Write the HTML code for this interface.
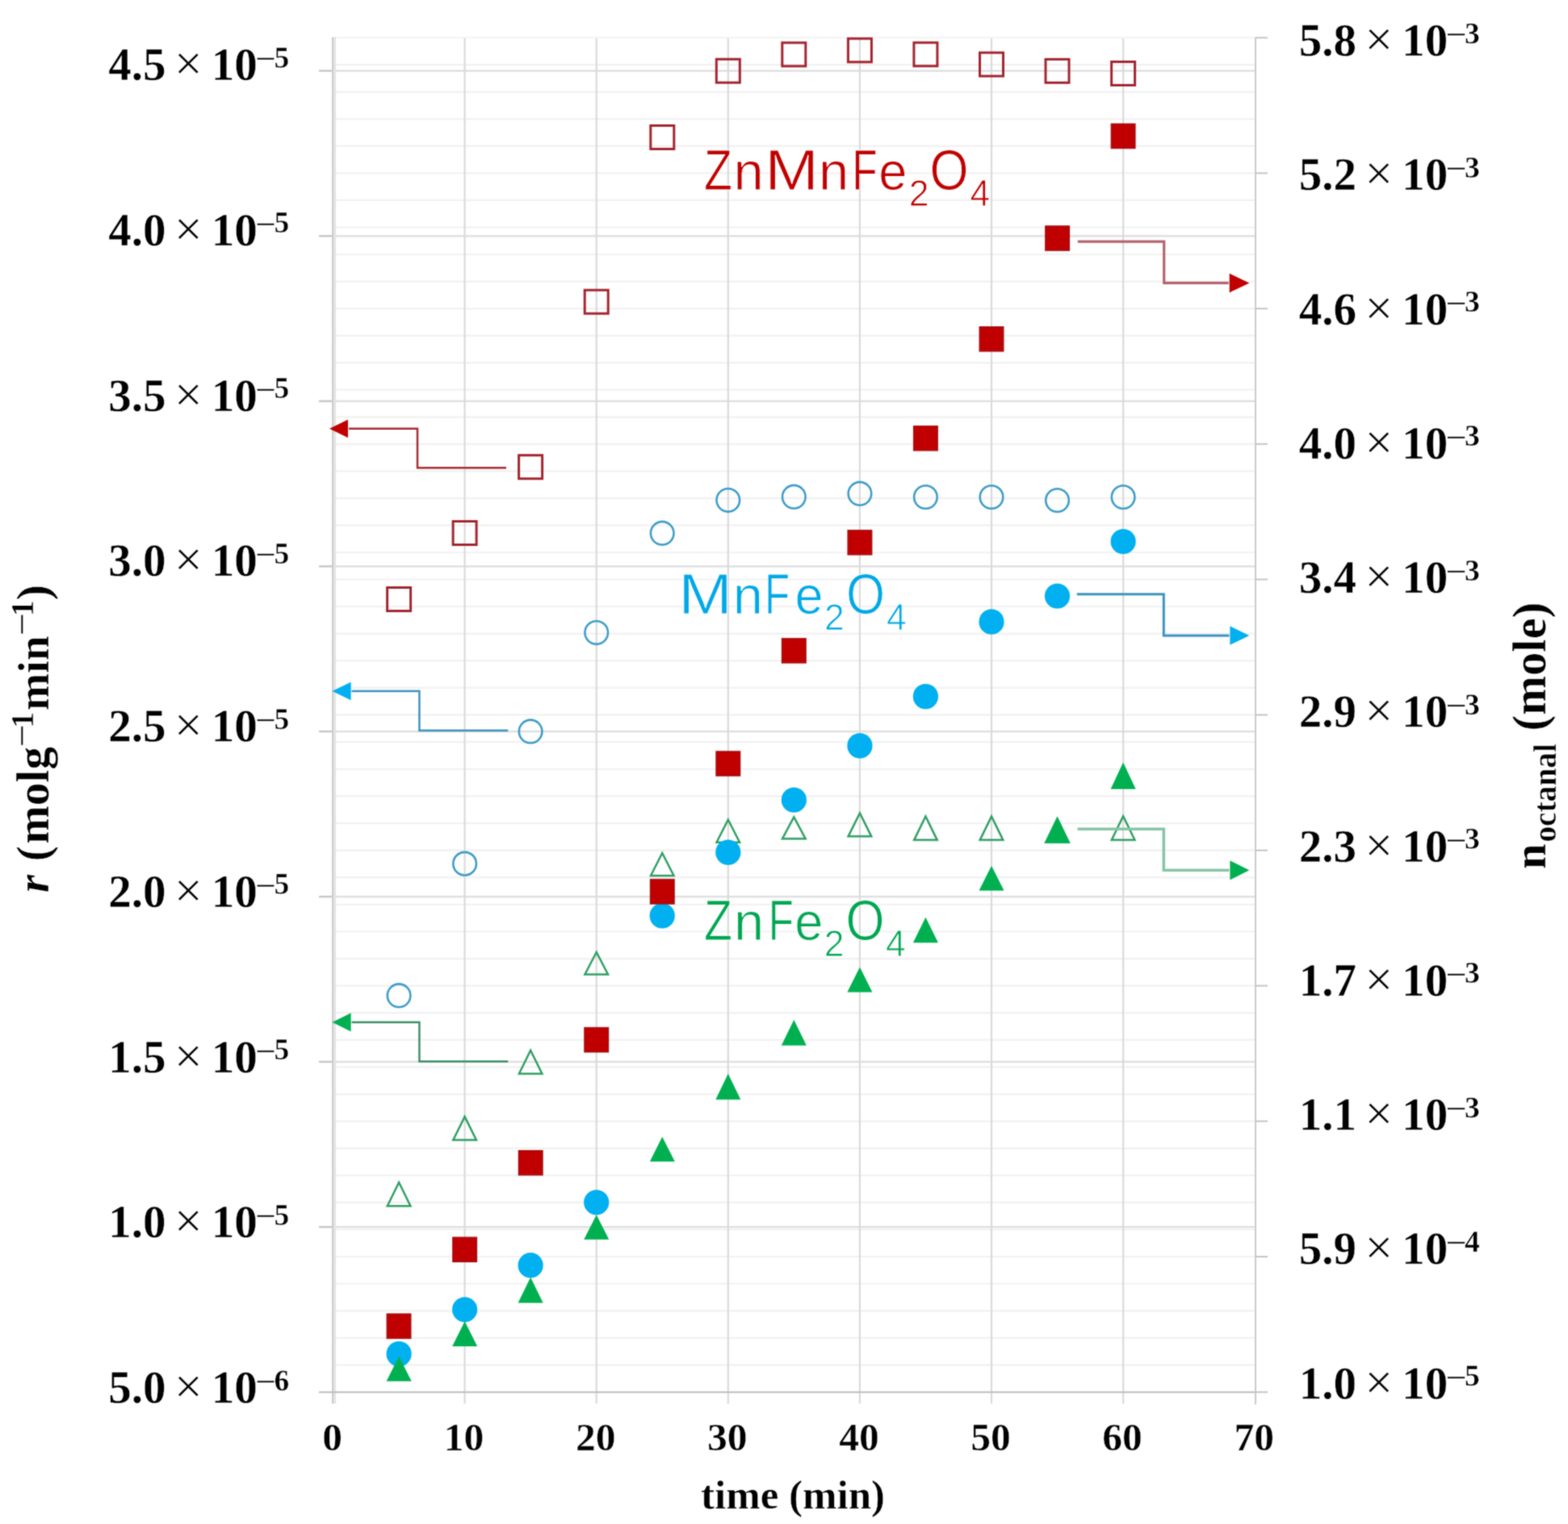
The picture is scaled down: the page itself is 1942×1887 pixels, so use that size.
<!DOCTYPE html>
<html><head><meta charset="utf-8"><title>chart</title>
<style>html,body{margin:0;padding:0;background:#fff;}svg{display:block;}</style>
</head><body>
<svg width="1942" height="1887" viewBox="0 0 1942 1887">
<defs><filter id="soft" x="0" y="0" width="1942" height="1887" filterUnits="userSpaceOnUse" color-interpolation-filters="sRGB"><feConvolveMatrix order="3" kernelMatrix="1 2 1 2 8 2 1 2 1" divisor="20" edgeMode="duplicate"/></filter></defs>
<g filter="url(#soft)">
<rect width="1942" height="1887" fill="#fff"/>
<line x1="414" y1="1690.2" x2="1554" y2="1690.2" stroke="#f1f1f1" stroke-width="2.2"/>
<line x1="414" y1="1656.6" x2="1554" y2="1656.6" stroke="#f1f1f1" stroke-width="2.2"/>
<line x1="414" y1="1623.1" x2="1554" y2="1623.1" stroke="#f1f1f1" stroke-width="2.2"/>
<line x1="414" y1="1589.5" x2="1554" y2="1589.5" stroke="#f1f1f1" stroke-width="2.2"/>
<line x1="414" y1="1556.0" x2="1554" y2="1556.0" stroke="#f1f1f1" stroke-width="2.2"/>
<line x1="414" y1="1522.5" x2="1554" y2="1522.5" stroke="#f1f1f1" stroke-width="2.2"/>
<line x1="414" y1="1488.9" x2="1554" y2="1488.9" stroke="#f1f1f1" stroke-width="2.2"/>
<line x1="414" y1="1455.4" x2="1554" y2="1455.4" stroke="#f1f1f1" stroke-width="2.2"/>
<line x1="414" y1="1421.8" x2="1554" y2="1421.8" stroke="#f1f1f1" stroke-width="2.2"/>
<line x1="414" y1="1388.3" x2="1554" y2="1388.3" stroke="#f1f1f1" stroke-width="2.2"/>
<line x1="414" y1="1354.8" x2="1554" y2="1354.8" stroke="#f1f1f1" stroke-width="2.2"/>
<line x1="414" y1="1321.2" x2="1554" y2="1321.2" stroke="#f1f1f1" stroke-width="2.2"/>
<line x1="414" y1="1287.7" x2="1554" y2="1287.7" stroke="#f1f1f1" stroke-width="2.2"/>
<line x1="414" y1="1254.1" x2="1554" y2="1254.1" stroke="#f1f1f1" stroke-width="2.2"/>
<line x1="414" y1="1220.6" x2="1554" y2="1220.6" stroke="#f1f1f1" stroke-width="2.2"/>
<line x1="414" y1="1187.1" x2="1554" y2="1187.1" stroke="#f1f1f1" stroke-width="2.2"/>
<line x1="414" y1="1153.5" x2="1554" y2="1153.5" stroke="#f1f1f1" stroke-width="2.2"/>
<line x1="414" y1="1120.0" x2="1554" y2="1120.0" stroke="#f1f1f1" stroke-width="2.2"/>
<line x1="414" y1="1086.4" x2="1554" y2="1086.4" stroke="#f1f1f1" stroke-width="2.2"/>
<line x1="414" y1="1052.9" x2="1554" y2="1052.9" stroke="#f1f1f1" stroke-width="2.2"/>
<line x1="414" y1="1019.4" x2="1554" y2="1019.4" stroke="#f1f1f1" stroke-width="2.2"/>
<line x1="414" y1="985.8" x2="1554" y2="985.8" stroke="#f1f1f1" stroke-width="2.2"/>
<line x1="414" y1="952.3" x2="1554" y2="952.3" stroke="#f1f1f1" stroke-width="2.2"/>
<line x1="414" y1="918.7" x2="1554" y2="918.7" stroke="#f1f1f1" stroke-width="2.2"/>
<line x1="414" y1="885.2" x2="1554" y2="885.2" stroke="#f1f1f1" stroke-width="2.2"/>
<line x1="414" y1="851.7" x2="1554" y2="851.7" stroke="#f1f1f1" stroke-width="2.2"/>
<line x1="414" y1="818.1" x2="1554" y2="818.1" stroke="#f1f1f1" stroke-width="2.2"/>
<line x1="414" y1="784.6" x2="1554" y2="784.6" stroke="#f1f1f1" stroke-width="2.2"/>
<line x1="414" y1="751.0" x2="1554" y2="751.0" stroke="#f1f1f1" stroke-width="2.2"/>
<line x1="414" y1="717.5" x2="1554" y2="717.5" stroke="#f1f1f1" stroke-width="2.2"/>
<line x1="414" y1="684.0" x2="1554" y2="684.0" stroke="#f1f1f1" stroke-width="2.2"/>
<line x1="414" y1="650.4" x2="1554" y2="650.4" stroke="#f1f1f1" stroke-width="2.2"/>
<line x1="414" y1="616.9" x2="1554" y2="616.9" stroke="#f1f1f1" stroke-width="2.2"/>
<line x1="414" y1="583.3" x2="1554" y2="583.3" stroke="#f1f1f1" stroke-width="2.2"/>
<line x1="414" y1="549.8" x2="1554" y2="549.8" stroke="#f1f1f1" stroke-width="2.2"/>
<line x1="414" y1="516.3" x2="1554" y2="516.3" stroke="#f1f1f1" stroke-width="2.2"/>
<line x1="414" y1="482.7" x2="1554" y2="482.7" stroke="#f1f1f1" stroke-width="2.2"/>
<line x1="414" y1="449.2" x2="1554" y2="449.2" stroke="#f1f1f1" stroke-width="2.2"/>
<line x1="414" y1="415.6" x2="1554" y2="415.6" stroke="#f1f1f1" stroke-width="2.2"/>
<line x1="414" y1="382.1" x2="1554" y2="382.1" stroke="#f1f1f1" stroke-width="2.2"/>
<line x1="414" y1="348.6" x2="1554" y2="348.6" stroke="#f1f1f1" stroke-width="2.2"/>
<line x1="414" y1="315.0" x2="1554" y2="315.0" stroke="#f1f1f1" stroke-width="2.2"/>
<line x1="414" y1="281.5" x2="1554" y2="281.5" stroke="#f1f1f1" stroke-width="2.2"/>
<line x1="414" y1="247.9" x2="1554" y2="247.9" stroke="#f1f1f1" stroke-width="2.2"/>
<line x1="414" y1="214.4" x2="1554" y2="214.4" stroke="#f1f1f1" stroke-width="2.2"/>
<line x1="414" y1="180.9" x2="1554" y2="180.9" stroke="#f1f1f1" stroke-width="2.2"/>
<line x1="414" y1="147.3" x2="1554" y2="147.3" stroke="#f1f1f1" stroke-width="2.2"/>
<line x1="414" y1="113.8" x2="1554" y2="113.8" stroke="#f1f1f1" stroke-width="2.2"/>
<line x1="414" y1="80.2" x2="1554" y2="80.2" stroke="#f1f1f1" stroke-width="2.2"/>
<line x1="395" y1="1519.2" x2="1554" y2="1519.2" stroke="#e0e0e0" stroke-width="2.6"/>
<line x1="395" y1="1519.2" x2="412" y2="1519.2" stroke="#c4c4c4" stroke-width="2"/>
<line x1="395" y1="1314.7" x2="1554" y2="1314.7" stroke="#e0e0e0" stroke-width="2.6"/>
<line x1="395" y1="1314.7" x2="412" y2="1314.7" stroke="#c4c4c4" stroke-width="2"/>
<line x1="395" y1="1110.2" x2="1554" y2="1110.2" stroke="#e0e0e0" stroke-width="2.6"/>
<line x1="395" y1="1110.2" x2="412" y2="1110.2" stroke="#c4c4c4" stroke-width="2"/>
<line x1="395" y1="905.7" x2="1554" y2="905.7" stroke="#e0e0e0" stroke-width="2.6"/>
<line x1="395" y1="905.7" x2="412" y2="905.7" stroke="#c4c4c4" stroke-width="2"/>
<line x1="395" y1="701.2" x2="1554" y2="701.2" stroke="#e0e0e0" stroke-width="2.6"/>
<line x1="395" y1="701.2" x2="412" y2="701.2" stroke="#c4c4c4" stroke-width="2"/>
<line x1="395" y1="496.7" x2="1554" y2="496.7" stroke="#e0e0e0" stroke-width="2.6"/>
<line x1="395" y1="496.7" x2="412" y2="496.7" stroke="#c4c4c4" stroke-width="2"/>
<line x1="395" y1="292.2" x2="1554" y2="292.2" stroke="#e0e0e0" stroke-width="2.6"/>
<line x1="395" y1="292.2" x2="412" y2="292.2" stroke="#c4c4c4" stroke-width="2"/>
<line x1="395" y1="87.7" x2="1554" y2="87.7" stroke="#e0e0e0" stroke-width="2.6"/>
<line x1="395" y1="87.7" x2="412" y2="87.7" stroke="#c4c4c4" stroke-width="2"/>
<line x1="575.6" y1="47" x2="575.6" y2="1738" stroke="#dadada" stroke-width="2.2"/>
<line x1="738.7" y1="47" x2="738.7" y2="1738" stroke="#dadada" stroke-width="2.2"/>
<line x1="901.8" y1="47" x2="901.8" y2="1738" stroke="#dadada" stroke-width="2.2"/>
<line x1="1064.9" y1="47" x2="1064.9" y2="1738" stroke="#dadada" stroke-width="2.2"/>
<line x1="1228.0" y1="47" x2="1228.0" y2="1738" stroke="#dadada" stroke-width="2.2"/>
<line x1="1391.1" y1="47" x2="1391.1" y2="1738" stroke="#dadada" stroke-width="2.2"/>
<line x1="414" y1="46.5" x2="1554" y2="46.5" stroke="#f3f3f3" stroke-width="2"/>
<line x1="412" y1="46" x2="412" y2="1738" stroke="#cdcdcd" stroke-width="2"/>
<line x1="414.5" y1="46" x2="414.5" y2="1738" stroke="#e3e3e3" stroke-width="3"/>
<line x1="395" y1="1723.7" x2="1555" y2="1723.7" stroke="#bcbcbc" stroke-width="2"/>
<line x1="1555" y1="46" x2="1555" y2="1739" stroke="#cacaca" stroke-width="2"/>
<line x1="1555" y1="1723.7" x2="1570" y2="1723.7" stroke="#c4c4c4" stroke-width="2"/>
<line x1="1555" y1="1556.0" x2="1570" y2="1556.0" stroke="#c4c4c4" stroke-width="2"/>
<line x1="1555" y1="1388.3" x2="1570" y2="1388.3" stroke="#c4c4c4" stroke-width="2"/>
<line x1="1555" y1="1220.6" x2="1570" y2="1220.6" stroke="#c4c4c4" stroke-width="2"/>
<line x1="1555" y1="1052.9" x2="1570" y2="1052.9" stroke="#c4c4c4" stroke-width="2"/>
<line x1="1555" y1="885.2" x2="1570" y2="885.2" stroke="#c4c4c4" stroke-width="2"/>
<line x1="1555" y1="717.5" x2="1570" y2="717.5" stroke="#c4c4c4" stroke-width="2"/>
<line x1="1555" y1="549.8" x2="1570" y2="549.8" stroke="#c4c4c4" stroke-width="2"/>
<line x1="1555" y1="382.1" x2="1570" y2="382.1" stroke="#c4c4c4" stroke-width="2"/>
<line x1="1555" y1="214.4" x2="1570" y2="214.4" stroke="#c4c4c4" stroke-width="2"/>
<line x1="1555" y1="46.7" x2="1570" y2="46.7" stroke="#c4c4c4" stroke-width="2"/>
<rect x="479.6" y="727.5" width="29" height="29" fill="none" stroke="#a3242e" stroke-width="3"/>
<rect x="561.1" y="645.5" width="29" height="29" fill="none" stroke="#a3242e" stroke-width="3"/>
<rect x="642.6" y="563.7" width="29" height="29" fill="none" stroke="#a3242e" stroke-width="3"/>
<rect x="724.2" y="359.2" width="29" height="29" fill="none" stroke="#a3242e" stroke-width="3"/>
<rect x="805.8" y="155.5" width="29" height="29" fill="none" stroke="#a3242e" stroke-width="3"/>
<rect x="887.3" y="73.3" width="29" height="29" fill="none" stroke="#a3242e" stroke-width="3"/>
<rect x="968.8" y="52.9" width="29" height="29" fill="none" stroke="#a3242e" stroke-width="3"/>
<rect x="1050.4" y="47.8" width="29" height="29" fill="none" stroke="#a3242e" stroke-width="3"/>
<rect x="1131.9" y="52.8" width="29" height="29" fill="none" stroke="#a3242e" stroke-width="3"/>
<rect x="1213.5" y="65.2" width="29" height="29" fill="none" stroke="#a3242e" stroke-width="3"/>
<rect x="1295.0" y="73.4" width="29" height="29" fill="none" stroke="#a3242e" stroke-width="3"/>
<rect x="1376.6" y="76.5" width="29" height="29" fill="none" stroke="#a3242e" stroke-width="3"/>
<circle cx="494.1" cy="1232.7" r="14.3" fill="none" stroke="#3d9cc9" stroke-width="2.6"/>
<circle cx="575.6" cy="1069.4" r="14.3" fill="none" stroke="#3d9cc9" stroke-width="2.6"/>
<circle cx="657.1" cy="905.7" r="14.3" fill="none" stroke="#3d9cc9" stroke-width="2.6"/>
<circle cx="738.7" cy="783.3" r="14.3" fill="none" stroke="#3d9cc9" stroke-width="2.6"/>
<circle cx="820.2" cy="660.2" r="14.3" fill="none" stroke="#3d9cc9" stroke-width="2.6"/>
<circle cx="901.8" cy="619.3" r="14.3" fill="none" stroke="#3d9cc9" stroke-width="2.6"/>
<circle cx="983.3" cy="615.2" r="14.3" fill="none" stroke="#3d9cc9" stroke-width="2.6"/>
<circle cx="1064.9" cy="611.2" r="14.3" fill="none" stroke="#3d9cc9" stroke-width="2.6"/>
<circle cx="1146.4" cy="615.5" r="14.3" fill="none" stroke="#3d9cc9" stroke-width="2.6"/>
<circle cx="1228.0" cy="615.5" r="14.3" fill="none" stroke="#3d9cc9" stroke-width="2.6"/>
<circle cx="1309.5" cy="619.5" r="14.3" fill="none" stroke="#3d9cc9" stroke-width="2.6"/>
<circle cx="1391.1" cy="615.5" r="14.3" fill="none" stroke="#3d9cc9" stroke-width="2.6"/>
<polygon points="494.1,1464.0 479.8,1493.3 508.4,1493.3" fill="none" stroke="#2f9e63" stroke-width="2.5" stroke-linejoin="miter"/>
<polygon points="575.6,1382.6 561.3,1411.5 589.9,1411.5" fill="none" stroke="#2f9e63" stroke-width="2.5" stroke-linejoin="miter"/>
<polygon points="657.1,1300.5 642.9,1329.5 671.4,1329.5" fill="none" stroke="#2f9e63" stroke-width="2.5" stroke-linejoin="miter"/>
<polygon points="738.7,1179.0 724.4,1206.5 753.0,1206.5" fill="none" stroke="#2f9e63" stroke-width="2.5" stroke-linejoin="miter"/>
<polygon points="820.2,1056.3 806.0,1084.2 834.5,1084.2" fill="none" stroke="#2f9e63" stroke-width="2.5" stroke-linejoin="miter"/>
<polygon points="901.8,1015.0 887.5,1043.0 916.1,1043.0" fill="none" stroke="#2f9e63" stroke-width="2.5" stroke-linejoin="miter"/>
<polygon points="983.3,1011.6 969.0,1038.4 997.6,1038.4" fill="none" stroke="#2f9e63" stroke-width="2.5" stroke-linejoin="miter"/>
<polygon points="1064.9,1006.7 1050.6,1035.6 1079.2,1035.6" fill="none" stroke="#2f9e63" stroke-width="2.5" stroke-linejoin="miter"/>
<polygon points="1146.4,1010.8 1132.1,1040.1 1160.7,1040.1" fill="none" stroke="#2f9e63" stroke-width="2.5" stroke-linejoin="miter"/>
<polygon points="1228.0,1010.8 1213.7,1040.1 1242.3,1040.1" fill="none" stroke="#2f9e63" stroke-width="2.5" stroke-linejoin="miter"/>
<polygon points="1309.5,1013.5 1295.2,1043.0 1323.8,1043.0" fill="none" stroke="#2f9e63" stroke-width="2.5" stroke-linejoin="miter"/>
<polygon points="1391.1,1010.5 1376.8,1040.0 1405.4,1040.0" fill="none" stroke="#2f9e63" stroke-width="2.5" stroke-linejoin="miter"/>
<circle cx="494.1" cy="1676.4" r="15.6" fill="#00b0f0"/>
<circle cx="575.6" cy="1621.5" r="15.6" fill="#00b0f0"/>
<circle cx="657.1" cy="1566.7" r="15.6" fill="#00b0f0"/>
<circle cx="738.7" cy="1488.8" r="15.6" fill="#00b0f0"/>
<circle cx="820.2" cy="1133.9" r="15.6" fill="#00b0f0"/>
<circle cx="901.8" cy="1055.4" r="15.6" fill="#00b0f0"/>
<circle cx="983.3" cy="990.5" r="15.6" fill="#00b0f0"/>
<circle cx="1064.9" cy="923.4" r="15.6" fill="#00b0f0"/>
<circle cx="1146.4" cy="862.4" r="15.6" fill="#00b0f0"/>
<circle cx="1228.0" cy="769.9" r="15.6" fill="#00b0f0"/>
<circle cx="1309.5" cy="738.0" r="15.6" fill="#00b0f0"/>
<circle cx="1391.1" cy="670.5" r="15.6" fill="#00b0f0"/>
<rect x="479.2" y="1626.9" width="29.6" height="30.2" fill="#c00000" stroke="#a21218" stroke-width="1.4"/>
<rect x="560.8" y="1532.1" width="29.6" height="30.2" fill="#c00000" stroke="#a21218" stroke-width="1.4"/>
<rect x="642.4" y="1424.7" width="29.6" height="30.2" fill="#c00000" stroke="#a21218" stroke-width="1.4"/>
<rect x="723.9" y="1272.4" width="29.6" height="30.2" fill="#c00000" stroke="#a21218" stroke-width="1.4"/>
<rect x="805.5" y="1088.9" width="29.6" height="30.2" fill="#c00000" stroke="#a21218" stroke-width="1.4"/>
<rect x="887.0" y="930.4" width="29.6" height="30.2" fill="#c00000" stroke="#a21218" stroke-width="1.4"/>
<rect x="968.5" y="790.6" width="29.6" height="30.2" fill="#c00000" stroke="#a21218" stroke-width="1.4"/>
<rect x="1050.1" y="656.6" width="29.6" height="30.2" fill="#c00000" stroke="#a21218" stroke-width="1.4"/>
<rect x="1131.6" y="527.6" width="29.6" height="30.2" fill="#c00000" stroke="#a21218" stroke-width="1.4"/>
<rect x="1213.2" y="404.7" width="29.6" height="30.2" fill="#c00000" stroke="#a21218" stroke-width="1.4"/>
<rect x="1294.8" y="279.9" width="29.6" height="30.2" fill="#c00000" stroke="#a21218" stroke-width="1.4"/>
<rect x="1376.3" y="153.4" width="29.6" height="30.2" fill="#c00000" stroke="#a21218" stroke-width="1.4"/>
<polygon points="494.1,1679.3 478.6,1710.2 509.6,1710.2" fill="#00b050"/>
<polygon points="575.6,1636.0 560.1,1666.9 591.1,1666.9" fill="#00b050"/>
<polygon points="657.1,1581.4 641.6,1613.3 672.6,1613.3" fill="#00b050"/>
<polygon points="738.7,1504.2 723.2,1534.7 754.2,1534.7" fill="#00b050"/>
<polygon points="820.2,1407.4 804.8,1438.3 835.8,1438.3" fill="#00b050"/>
<polygon points="901.8,1329.6 886.3,1361.5 917.3,1361.5" fill="#00b050"/>
<polygon points="983.3,1262.7 967.8,1294.6 998.8,1294.6" fill="#00b050"/>
<polygon points="1064.9,1197.6 1049.4,1228.5 1080.4,1228.5" fill="#00b050"/>
<polygon points="1146.4,1135.8 1130.9,1167.3 1161.9,1167.3" fill="#00b050"/>
<polygon points="1228.0,1071.9 1212.5,1102.8 1243.5,1102.8" fill="#00b050"/>
<polygon points="1309.5,1011.2 1294.0,1044.0 1325.0,1044.0" fill="#00b050"/>
<polygon points="1391.1,943.9 1375.6,976.9 1406.6,976.9" fill="#00b050"/>
<path d="M627,579.2 H517 V530.7 H432" fill="none" stroke="#a52a30" stroke-width="2.5"/>
<polygon points="408,530.7 431,519.5 431,541.9000000000001" fill="#c00000"/>
<path d="M629.2,904.5 H519.4 V855.7 H435.6" fill="none" stroke="#3a93bf" stroke-width="2.5"/>
<polygon points="411.5,855.7 434.6,844.5 434.6,866.9000000000001" fill="#00b0f0"/>
<path d="M629.2,1314.2 H519.4 V1265.7 H435.6" fill="none" stroke="#3c9066" stroke-width="2.5"/>
<polygon points="411.5,1265.7 434.6,1254.2 434.6,1277.2" fill="#00b050"/>
<path d="M1334.8,299.2 H1441.7 V350.4 H1521.7" fill="none" stroke="#b4636e" stroke-width="3.2"/>
<polygon points="1547.4,350.4 1522.7,338.59999999999997 1522.7,362.2" fill="#c00000"/>
<path d="M1333.8,735.7 H1441.3 V786.9 H1522.4" fill="none" stroke="#3a93bf" stroke-width="3"/>
<polygon points="1547.3,786.9 1523.4,775.3 1523.4,798.5" fill="#00b0f0"/>
<path d="M1334.5,1026.6 H1441.3 V1077.6 H1522.4" fill="none" stroke="#86c4a4" stroke-width="3.5"/>
<polygon points="1547.3,1077.6 1523.4,1065.6 1523.4,1089.6" fill="#00b050"/>
<g stroke="#fff" stroke-width="0.4"><text font-family="'Liberation Serif','Times New Roman',serif" fill="#000"><tspan x="134.3" y="1737.0" font-weight="bold" font-size="57">5.0 </tspan><tspan x="215.8" y="1737.0" font-size="62">× </tspan><tspan x="261.8" y="1737.0" font-weight="bold" font-size="57">10</tspan><tspan x="316.3" y="1726.0" font-size="46">−</tspan><tspan x="339.5" y="1721.5" font-weight="bold" font-size="37.5">6</tspan></text>
<text font-family="'Liberation Serif','Times New Roman',serif" fill="#000"><tspan x="134.3" y="1532.2" font-weight="bold" font-size="57">1.0 </tspan><tspan x="215.8" y="1532.2" font-size="62">× </tspan><tspan x="261.8" y="1532.2" font-weight="bold" font-size="57">10</tspan><tspan x="316.3" y="1521.2" font-size="46">−</tspan><tspan x="339.5" y="1516.8" font-weight="bold" font-size="37.5">5</tspan></text>
<text font-family="'Liberation Serif','Times New Roman',serif" fill="#000"><tspan x="134.3" y="1327.5" font-weight="bold" font-size="57">1.5 </tspan><tspan x="215.8" y="1327.5" font-size="62">× </tspan><tspan x="261.8" y="1327.5" font-weight="bold" font-size="57">10</tspan><tspan x="316.3" y="1316.5" font-size="46">−</tspan><tspan x="339.5" y="1312.0" font-weight="bold" font-size="37.5">5</tspan></text>
<text font-family="'Liberation Serif','Times New Roman',serif" fill="#000"><tspan x="134.3" y="1122.8" font-weight="bold" font-size="57">2.0 </tspan><tspan x="215.8" y="1122.8" font-size="62">× </tspan><tspan x="261.8" y="1122.8" font-weight="bold" font-size="57">10</tspan><tspan x="316.3" y="1111.8" font-size="46">−</tspan><tspan x="339.5" y="1107.2" font-weight="bold" font-size="37.5">5</tspan></text>
<text font-family="'Liberation Serif','Times New Roman',serif" fill="#000"><tspan x="134.3" y="918.0" font-weight="bold" font-size="57">2.5 </tspan><tspan x="215.8" y="918.0" font-size="62">× </tspan><tspan x="261.8" y="918.0" font-weight="bold" font-size="57">10</tspan><tspan x="316.3" y="907.0" font-size="46">−</tspan><tspan x="339.5" y="902.5" font-weight="bold" font-size="37.5">5</tspan></text>
<text font-family="'Liberation Serif','Times New Roman',serif" fill="#000"><tspan x="134.3" y="713.2" font-weight="bold" font-size="57">3.0 </tspan><tspan x="215.8" y="713.2" font-size="62">× </tspan><tspan x="261.8" y="713.2" font-weight="bold" font-size="57">10</tspan><tspan x="316.3" y="702.2" font-size="46">−</tspan><tspan x="339.5" y="697.8" font-weight="bold" font-size="37.5">5</tspan></text>
<text font-family="'Liberation Serif','Times New Roman',serif" fill="#000"><tspan x="134.3" y="508.5" font-weight="bold" font-size="57">3.5 </tspan><tspan x="215.8" y="508.5" font-size="62">× </tspan><tspan x="261.8" y="508.5" font-weight="bold" font-size="57">10</tspan><tspan x="316.3" y="497.5" font-size="46">−</tspan><tspan x="339.5" y="493.0" font-weight="bold" font-size="37.5">5</tspan></text>
<text font-family="'Liberation Serif','Times New Roman',serif" fill="#000"><tspan x="134.3" y="303.8" font-weight="bold" font-size="57">4.0 </tspan><tspan x="215.8" y="303.8" font-size="62">× </tspan><tspan x="261.8" y="303.8" font-weight="bold" font-size="57">10</tspan><tspan x="316.3" y="292.8" font-size="46">−</tspan><tspan x="339.5" y="288.2" font-weight="bold" font-size="37.5">5</tspan></text>
<text font-family="'Liberation Serif','Times New Roman',serif" fill="#000"><tspan x="134.3" y="99.0" font-weight="bold" font-size="57">4.5 </tspan><tspan x="215.8" y="99.0" font-size="62">× </tspan><tspan x="261.8" y="99.0" font-weight="bold" font-size="57">10</tspan><tspan x="316.3" y="88.0" font-size="46">−</tspan><tspan x="339.5" y="83.5" font-weight="bold" font-size="37.5">5</tspan></text>
<text font-family="'Liberation Serif','Times New Roman',serif" fill="#000"><tspan x="1608.8" y="1731.7" font-weight="bold" font-size="57">1.0 </tspan><tspan x="1690.3" y="1731.7" font-size="62">× </tspan><tspan x="1736.3" y="1731.7" font-weight="bold" font-size="57">10</tspan><tspan x="1790.8" y="1720.7" font-size="46">−</tspan><tspan x="1814.0" y="1716.2" font-weight="bold" font-size="37.5">5</tspan></text>
<text font-family="'Liberation Serif','Times New Roman',serif" fill="#000"><tspan x="1608.8" y="1565.4" font-weight="bold" font-size="57">5.9 </tspan><tspan x="1690.3" y="1565.4" font-size="62">× </tspan><tspan x="1736.3" y="1565.4" font-weight="bold" font-size="57">10</tspan><tspan x="1790.8" y="1554.4" font-size="46">−</tspan><tspan x="1814.0" y="1549.9" font-weight="bold" font-size="37.5">4</tspan></text>
<text font-family="'Liberation Serif','Times New Roman',serif" fill="#000"><tspan x="1608.8" y="1399.2" font-weight="bold" font-size="57">1.1 </tspan><tspan x="1690.3" y="1399.2" font-size="62">× </tspan><tspan x="1736.3" y="1399.2" font-weight="bold" font-size="57">10</tspan><tspan x="1790.8" y="1388.2" font-size="46">−</tspan><tspan x="1814.0" y="1383.7" font-weight="bold" font-size="37.5">3</tspan></text>
<text font-family="'Liberation Serif','Times New Roman',serif" fill="#000"><tspan x="1608.8" y="1232.9" font-weight="bold" font-size="57">1.7 </tspan><tspan x="1690.3" y="1232.9" font-size="62">× </tspan><tspan x="1736.3" y="1232.9" font-weight="bold" font-size="57">10</tspan><tspan x="1790.8" y="1221.9" font-size="46">−</tspan><tspan x="1814.0" y="1217.4" font-weight="bold" font-size="37.5">3</tspan></text>
<text font-family="'Liberation Serif','Times New Roman',serif" fill="#000"><tspan x="1608.8" y="1066.7" font-weight="bold" font-size="57">2.3 </tspan><tspan x="1690.3" y="1066.7" font-size="62">× </tspan><tspan x="1736.3" y="1066.7" font-weight="bold" font-size="57">10</tspan><tspan x="1790.8" y="1055.7" font-size="46">−</tspan><tspan x="1814.0" y="1051.2" font-weight="bold" font-size="37.5">3</tspan></text>
<text font-family="'Liberation Serif','Times New Roman',serif" fill="#000"><tspan x="1608.8" y="900.4" font-weight="bold" font-size="57">2.9 </tspan><tspan x="1690.3" y="900.4" font-size="62">× </tspan><tspan x="1736.3" y="900.4" font-weight="bold" font-size="57">10</tspan><tspan x="1790.8" y="889.4" font-size="46">−</tspan><tspan x="1814.0" y="884.9" font-weight="bold" font-size="37.5">3</tspan></text>
<text font-family="'Liberation Serif','Times New Roman',serif" fill="#000"><tspan x="1608.8" y="734.1" font-weight="bold" font-size="57">3.4 </tspan><tspan x="1690.3" y="734.1" font-size="62">× </tspan><tspan x="1736.3" y="734.1" font-weight="bold" font-size="57">10</tspan><tspan x="1790.8" y="723.1" font-size="46">−</tspan><tspan x="1814.0" y="718.6" font-weight="bold" font-size="37.5">3</tspan></text>
<text font-family="'Liberation Serif','Times New Roman',serif" fill="#000"><tspan x="1608.8" y="567.9" font-weight="bold" font-size="57">4.0 </tspan><tspan x="1690.3" y="567.9" font-size="62">× </tspan><tspan x="1736.3" y="567.9" font-weight="bold" font-size="57">10</tspan><tspan x="1790.8" y="556.9" font-size="46">−</tspan><tspan x="1814.0" y="552.4" font-weight="bold" font-size="37.5">3</tspan></text>
<text font-family="'Liberation Serif','Times New Roman',serif" fill="#000"><tspan x="1608.8" y="401.6" font-weight="bold" font-size="57">4.6 </tspan><tspan x="1690.3" y="401.6" font-size="62">× </tspan><tspan x="1736.3" y="401.6" font-weight="bold" font-size="57">10</tspan><tspan x="1790.8" y="390.6" font-size="46">−</tspan><tspan x="1814.0" y="386.1" font-weight="bold" font-size="37.5">3</tspan></text>
<text font-family="'Liberation Serif','Times New Roman',serif" fill="#000"><tspan x="1608.8" y="235.4" font-weight="bold" font-size="57">5.2 </tspan><tspan x="1690.3" y="235.4" font-size="62">× </tspan><tspan x="1736.3" y="235.4" font-weight="bold" font-size="57">10</tspan><tspan x="1790.8" y="224.4" font-size="46">−</tspan><tspan x="1814.0" y="219.9" font-weight="bold" font-size="37.5">3</tspan></text>
<text font-family="'Liberation Serif','Times New Roman',serif" fill="#000"><tspan x="1608.8" y="69.1" font-weight="bold" font-size="57">5.8 </tspan><tspan x="1690.3" y="69.1" font-size="62">× </tspan><tspan x="1736.3" y="69.1" font-weight="bold" font-size="57">10</tspan><tspan x="1790.8" y="58.1" font-size="46">−</tspan><tspan x="1814.0" y="53.6" font-weight="bold" font-size="37.5">3</tspan></text>
<text x="411.5" y="1796" font-family="'Liberation Serif','Times New Roman',serif" font-weight="bold" font-size="49.5" text-anchor="middle">0</text>
<text x="574.6" y="1796" font-family="'Liberation Serif','Times New Roman',serif" font-weight="bold" font-size="49.5" text-anchor="middle">10</text>
<text x="737.7" y="1796" font-family="'Liberation Serif','Times New Roman',serif" font-weight="bold" font-size="49.5" text-anchor="middle">20</text>
<text x="900.8" y="1796" font-family="'Liberation Serif','Times New Roman',serif" font-weight="bold" font-size="49.5" text-anchor="middle">30</text>
<text x="1063.9" y="1796" font-family="'Liberation Serif','Times New Roman',serif" font-weight="bold" font-size="49.5" text-anchor="middle">40</text>
<text x="1227.0" y="1796" font-family="'Liberation Serif','Times New Roman',serif" font-weight="bold" font-size="49.5" text-anchor="middle">50</text>
<text x="1390.1" y="1796" font-family="'Liberation Serif','Times New Roman',serif" font-weight="bold" font-size="49.5" text-anchor="middle">60</text>
<text x="1553.2" y="1796" font-family="'Liberation Serif','Times New Roman',serif" font-weight="bold" font-size="49.5" text-anchor="middle">70</text>
<text x="868" y="1867.5" font-family="'Liberation Serif','Times New Roman',serif" font-weight="bold" font-size="51">time (min)</text>
<text transform="translate(59.7,1104) rotate(-90)" font-family="'Liberation Serif','Times New Roman',serif" font-weight="bold" font-size="57"><tspan x="-1.2" y="0" font-style="italic">r </tspan><tspan x="37.5" y="0">(</tspan><tspan x="59.1" y="0">molg</tspan><tspan x="178.7" y="-15.3" font-size="50" font-weight="normal">−</tspan><tspan x="202.6" y="-18.7" font-size="40">1</tspan><tspan x="224.3" y="0" font-size="55.5">min</tspan><tspan x="316.8" y="-15.3" font-size="50" font-weight="normal">−</tspan><tspan x="340.8" y="-18.7" font-size="40">1</tspan><tspan x="361.0" y="0">)</tspan></text>
<text transform="translate(1914,1074.7) rotate(-90)" font-family="'Liberation Serif','Times New Roman',serif" font-weight="bold" font-size="57"><tspan x="-1.5" y="0">n</tspan><tspan x="31.9" y="12.5" font-size="39.3">octanal </tspan><tspan x="169.8" y="0" font-size="58.5">(mole)</tspan></text>
<text font-family="'Liberation Sans',Arial,sans-serif" fill="#c00000" stroke="#fff" stroke-width="0.9"><tspan x="871.9" y="234.6" font-size="69.8" textLength="34.9" lengthAdjust="spacingAndGlyphs">Z</tspan><tspan x="908.4" y="234.6" font-size="66" textLength="37.2" lengthAdjust="spacingAndGlyphs">n</tspan><tspan x="947.3" y="234.6" font-size="69.8" textLength="66.7" lengthAdjust="spacingAndGlyphs">M</tspan><tspan x="1014.1" y="234.6" font-size="66" textLength="37.2" lengthAdjust="spacingAndGlyphs">n</tspan><tspan x="1055.4" y="234.6" font-size="69.8" textLength="31.1" lengthAdjust="spacingAndGlyphs">F</tspan><tspan x="1088.2" y="234.6" font-size="66" textLength="35.1" lengthAdjust="spacingAndGlyphs">e</tspan><tspan x="1125.8" y="254.8" font-size="46" textLength="24.8" lengthAdjust="spacingAndGlyphs">2</tspan><tspan x="1151.6" y="234.6" font-size="69.8" textLength="48.1" lengthAdjust="spacingAndGlyphs">O</tspan><tspan x="1201.5" y="254.8" font-size="46" textLength="24.7" lengthAdjust="spacingAndGlyphs">4</tspan></text>
<text font-family="'Liberation Sans',Arial,sans-serif" fill="#00a8e6" stroke="#fff" stroke-width="0.9"><tspan x="840.2" y="759.9" font-size="69.8" textLength="66.7" lengthAdjust="spacingAndGlyphs">M</tspan><tspan x="907.8" y="759.9" font-size="66" textLength="37.2" lengthAdjust="spacingAndGlyphs">n</tspan><tspan x="947.1" y="759.9" font-size="69.8" textLength="31.1" lengthAdjust="spacingAndGlyphs">F</tspan><tspan x="984.5" y="759.9" font-size="66" textLength="35.1" lengthAdjust="spacingAndGlyphs">e</tspan><tspan x="1020.9" y="780.1" font-size="46" textLength="24.8" lengthAdjust="spacingAndGlyphs">2</tspan><tspan x="1048.1" y="759.9" font-size="69.8" textLength="48.1" lengthAdjust="spacingAndGlyphs">O</tspan><tspan x="1098.0" y="780.1" font-size="46" textLength="24.7" lengthAdjust="spacingAndGlyphs">4</tspan></text>
<text font-family="'Liberation Sans',Arial,sans-serif" fill="#00a651" stroke="#fff" stroke-width="0.9"><tspan x="871.9" y="1164.2" font-size="69.8" textLength="34.9" lengthAdjust="spacingAndGlyphs">Z</tspan><tspan x="908.9" y="1164.2" font-size="66" textLength="37.2" lengthAdjust="spacingAndGlyphs">n</tspan><tspan x="951.7" y="1164.2" font-size="69.8" textLength="31.1" lengthAdjust="spacingAndGlyphs">F</tspan><tspan x="984.2" y="1164.2" font-size="66" textLength="35.1" lengthAdjust="spacingAndGlyphs">e</tspan><tspan x="1020.7" y="1184.4" font-size="46" textLength="24.8" lengthAdjust="spacingAndGlyphs">2</tspan><tspan x="1047.4" y="1164.2" font-size="69.8" textLength="48.1" lengthAdjust="spacingAndGlyphs">O</tspan><tspan x="1096.9" y="1184.4" font-size="46" textLength="24.7" lengthAdjust="spacingAndGlyphs">4</tspan></text></g>
</g>
</svg>
</body></html>
